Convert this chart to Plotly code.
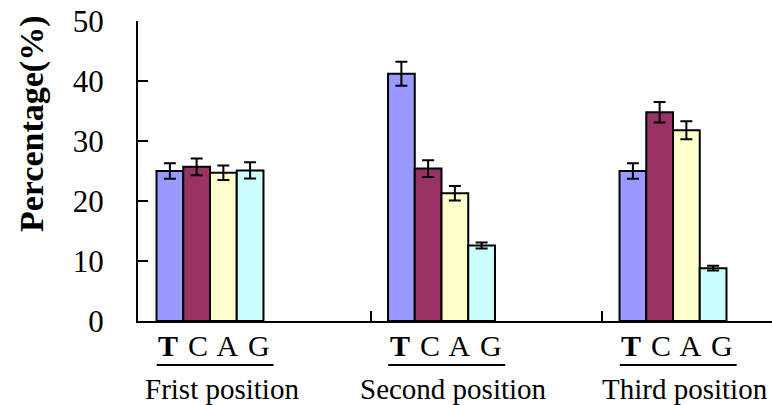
import plotly.graph_objects as go

groups = ["Frist position", "Second position", "Third position"]
bases = ["T", "C", "A", "G"]
colors = ["#9999FF", "#993366", "#FFFFCC", "#CCFFFF"]
values = {
    "T": [25.0, 41.2, 25.0],
    "C": [25.7, 25.4, 34.8],
    "A": [24.7, 21.3, 31.8],
    "G": [25.1, 12.6, 8.8],
}
errors = {
    "T": [1.3, 2.0, 1.3],
    "C": [1.4, 1.4, 1.7],
    "A": [1.2, 1.2, 1.5],
    "G": [1.35, 0.5, 0.4],
}
yticks = [0, 10, 20, 30, 40, 50]

W, H = 772, 405
ML, MT, MB = 138, 21, 84
PW = W - ML
font_family = "Liberation Serif, Times New Roman, serif"

fig = go.Figure()
xs = list(range(len(groups)))
for b, c in zip(bases, colors):
    fig.add_trace(go.Bar(
        x=xs, y=values[b], name=b,
        marker=dict(color=c, line=dict(color="black", width=2)),
        error_y=dict(type="data", array=errors[b], color="black", thickness=2, width=6),
    ))

px_per_unit = 231.5
x0 = -(210 - ML) / px_per_unit
x1 = x0 + PW / px_per_unit

fig.update_layout(
    width=W, height=H,
    margin=dict(l=ML, r=0, t=MT, b=MB, pad=0),
    barmode="group", bargap=0.538, bargroupgap=0,
    plot_bgcolor="white", paper_bgcolor="white",
    showlegend=False,
    font=dict(family=font_family, color="black"),
    xaxis=dict(range=[x0, x1], showgrid=False, zeroline=False,
               showline=True, linecolor="black", linewidth=2,
               ticks="inside", ticklen=10, tickwidth=2, tickcolor="black",
               tickvals=[0.695, 1.693], showticklabels=False),
    yaxis=dict(range=[0, 50], showgrid=False, zeroline=False,
               showline=True, linecolor="black", linewidth=2,
               ticks="inside", ticklen=10, tickwidth=2, tickcolor="black",
               tickvals=yticks, ticktext=[str(v) for v in yticks],
               tickfont=dict(size=31, family=font_family),
               ticklabelstandoff=26),
)

def py(p):
    return (H - MB - p) / 300.0

for i, g in enumerate(groups):
    fig.add_annotation(x=i, y=py(345), xref="x", yref="paper", xshift=4,
                       text="<b>T</b>\u200a C\u200a A\u200a G", showarrow=False,
                       font=dict(size=30, family=font_family), xanchor="center", yanchor="middle")
    fig.add_shape(type="line", xref="x", yref="paper",
                  x0=i - 0.23, x1=i + 0.275, y0=py(365), y1=py(365),
                  line=dict(color="black", width=2))
    fig.add_annotation(x=i, y=py(389), xref="x", yref="paper", xshift=12,
                       text=g, showarrow=False,
                       font=dict(size=29, family=font_family), xanchor="center", yanchor="middle")

fig.add_annotation(x=(32 - ML) / PW, y=py(124), xref="paper", yref="paper",
                   text="<b>Percentage(%)</b>", textangle=-90, showarrow=False,
                   font=dict(size=34, family=font_family), xanchor="center", yanchor="middle")

fig.write_html("out.html", config={"displayModeBar": False},
               post_script="document.body.style.margin='0';")
